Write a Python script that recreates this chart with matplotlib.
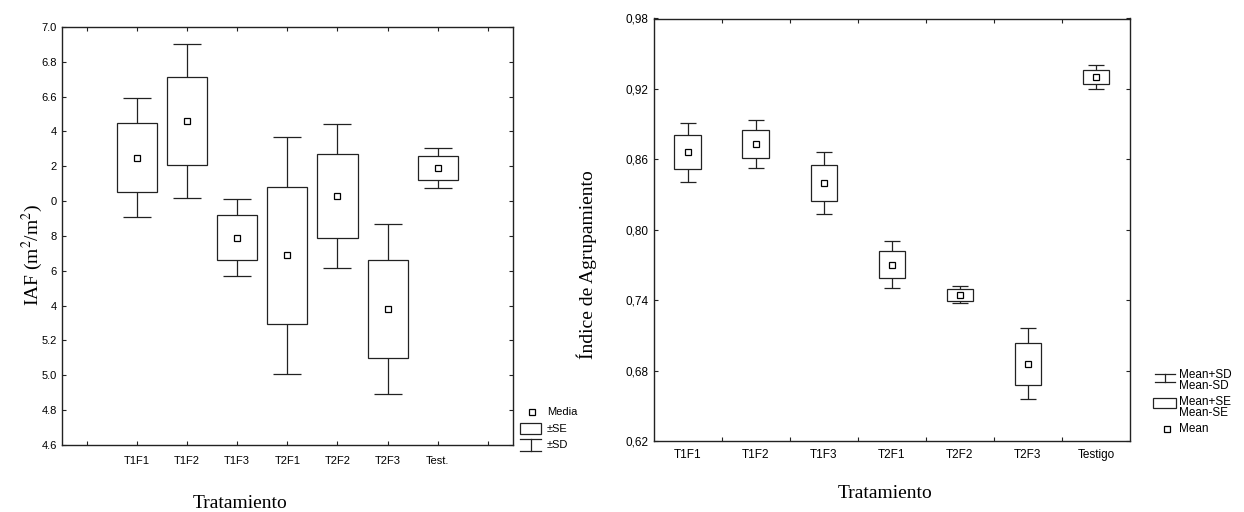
import matplotlib
matplotlib.use("Agg")
import matplotlib.pyplot as plt
from matplotlib.lines import Line2D
from matplotlib.patches import Rectangle
import numpy as np

plt.rcParams['font.family'] = ['Liberation Sans', 'DejaVu Sans']

# left chart: IAF
trat_izq = ['T1F1', 'T1F2', 'T1F3', 'T2F1', 'T2F2', 'T2F3', 'Test.']
iaf_media = [6.25, 6.46, 5.79, 5.69, 6.03, 5.38, 6.19]
iaf_se = [0.196, 0.254, 0.128, 0.394, 0.239, 0.280, 0.067]
iaf_sd = [0.340, 0.440, 0.222, 0.680, 0.414, 0.488, 0.117]
iaf_ticks = [4.6, 4.8, 5.0, 5.2, 5.4, 5.6, 5.8, 6.0, 6.2, 6.4, 6.6, 6.8, 7.0]
iaf_ticklabels = ['4.6', '4.8', '5.0', '5.2', '4', '6', '8', '0', '2', '4', '6.6', '6.8', '7.0']

# right chart: indice de agrupamiento
trat_der = ['T1F1', 'T1F2', 'T1F3', 'T2F1', 'T2F2', 'T2F3', 'Testigo']
agr_mean = [0.866, 0.873, 0.840, 0.770, 0.7446, 0.686, 0.930]
agr_se = [0.0146, 0.0118, 0.0155, 0.0115, 0.0053, 0.0179, 0.0058]
agr_sd = [0.0253, 0.0207, 0.0264, 0.0200, 0.0071, 0.0306, 0.0100]
agr_ticks = [0.62, 0.68, 0.74, 0.80, 0.86, 0.92, 0.98]

W, H = 1244, 512
fig = plt.figure(figsize=(W / 100, H / 100), dpi=100)
lc = '#222222'


def px(x, y):
    return x / W, 1 - y / H


def draw_boxes(ax, xs, mean, se, sd, box_w, cap, ms):
    mean = np.array(mean)
    se = np.array(se)
    ax.errorbar(xs, mean, yerr=sd, fmt='none', ecolor=lc, elinewidth=0.9,
                capsize=cap, capthick=0.9, zorder=2)
    ax.bar(xs, 2 * se, bottom=mean - se, width=box_w, facecolor='white',
           edgecolor=lc, linewidth=0.9, zorder=3)
    ax.plot(xs, mean, linestyle='none', marker='s', markersize=ms,
            markerfacecolor='white', markeredgecolor='black',
            markeredgewidth=0.9, zorder=4)


def style_ax(ax):
    for s in ax.spines.values():
        s.set_linewidth(1.0)
        s.set_color('#222222')
    ax.tick_params(which='both', direction='in', top=True, right=True,
                   length=3, width=0.8, color='#222222')


# ---- left ----
ax1 = fig.add_axes([61.7 / W, 1 - 445 / H, 451.3 / W, 418 / H])
x1 = np.arange(1, len(trat_izq) + 1)
draw_boxes(ax1, x1, iaf_media, iaf_se, iaf_sd, 0.8, 10, 5)
ax1.set_xlim(-0.5, 8.5)
ax1.set_ylim(4.6, 7.0)
ax1.set_xticks(np.arange(0, 9))
ax1.set_xticklabels([''] + trat_izq + [''], fontsize=8)
ax1.set_yticks(iaf_ticks)
ax1.set_yticklabels(iaf_ticklabels, fontsize=8)
style_ax(ax1)
ax1.tick_params(axis='x', pad=8)

fig.text(*px(32, 255), 'IAF (m$^2$/m$^2$)', rotation=90, ha='center', va='center',
         fontsize=14, family='Liberation Serif', math_fontfamily='stix')
fig.text(*px(240, 503), 'Tratamiento', ha='center', va='center',
         fontsize=14, family='Liberation Serif')

# left legend
fig.add_artist(Line2D([px(532, 0)[0]], [px(0, 412)[1]], marker='s', markersize=5,
                      markerfacecolor='white', markeredgecolor='black',
                      markeredgewidth=0.9, transform=fig.transFigure))
fig.text(*px(547, 412), 'Media', fontsize=8, va='center')
fig.add_artist(Rectangle(px(520, 434), 21 / W, 11 / H, facecolor='none',
                         edgecolor=lc, linewidth=0.9, transform=fig.transFigure))
fig.text(*px(547, 429), '±SE', fontsize=8, va='center')
for yy in (439, 451):
    fig.add_artist(Line2D([px(520, 0)[0], px(541, 0)[0]], [px(0, yy)[1]] * 2,
                          color=lc, linewidth=0.9, transform=fig.transFigure))
fig.add_artist(Line2D([px(530.5, 0)[0]] * 2, [px(0, 439)[1], px(0, 451)[1]],
                      color=lc, linewidth=0.9, transform=fig.transFigure))
fig.text(*px(547, 445), '±SD', fontsize=8, va='center')

# ---- right ----
ax2 = fig.add_axes([653.5 / W, 1 - 441 / H, 476.5 / W, 422.5 / H])
x2 = np.arange(1, len(trat_der) + 1)
draw_boxes(ax2, x2, agr_mean, agr_se, agr_sd, 0.387, 6, 5)
ax2.set_xlim(0.5, 7.5)
ax2.set_ylim(0.62, 0.98)
ax2.set_xticks(x2)
ax2.set_xticklabels(trat_der, fontsize=8.5)
ax2.set_xticks(np.arange(1.5, 7.5, 1), minor=True)
ax2.set_yticks(agr_ticks)
ax2.set_yticklabels([f'{v:.2f}'.replace('.', ',') for v in agr_ticks], fontsize=8.5)
style_ax(ax2)
ax2.tick_params(axis='x', which='major', length=0, pad=6)

fig.text(*px(587, 265), 'Índice de Agrupamiento', rotation=90, ha='center',
         va='center', fontsize=14, family='Liberation Serif')
fig.text(*px(885, 493), 'Tratamiento', ha='center', va='center',
         fontsize=14, family='Liberation Serif')

# right legend
for yy in (373.5, 382):
    fig.add_artist(Line2D([px(1155, 0)[0], px(1175, 0)[0]], [px(0, yy)[1]] * 2,
                          color=lc, linewidth=0.9, transform=fig.transFigure))
fig.add_artist(Line2D([px(1165, 0)[0]] * 2, [px(0, 373.5)[1], px(0, 382)[1]],
                      color=lc, linewidth=0.9, transform=fig.transFigure))
fig.text(*px(1179, 375), 'Mean+SD', fontsize=8.5, va='center')
fig.text(*px(1179, 386), 'Mean-SD', fontsize=8.5, va='center')
fig.add_artist(Rectangle(px(1153, 408), 23 / W, 10 / H, facecolor='none',
                         edgecolor=lc, linewidth=0.9, transform=fig.transFigure))
fig.text(*px(1179, 402), 'Mean+SE', fontsize=8.5, va='center')
fig.text(*px(1179, 413), 'Mean-SE', fontsize=8.5, va='center')
fig.add_artist(Line2D([px(1167, 0)[0]], [px(0, 429)[1]], marker='s', markersize=5,
                      markerfacecolor='white', markeredgecolor='black',
                      markeredgewidth=0.9, transform=fig.transFigure))
fig.text(*px(1179, 429), 'Mean', fontsize=8.5, va='center')

fig.savefig('out.png', dpi=100)
